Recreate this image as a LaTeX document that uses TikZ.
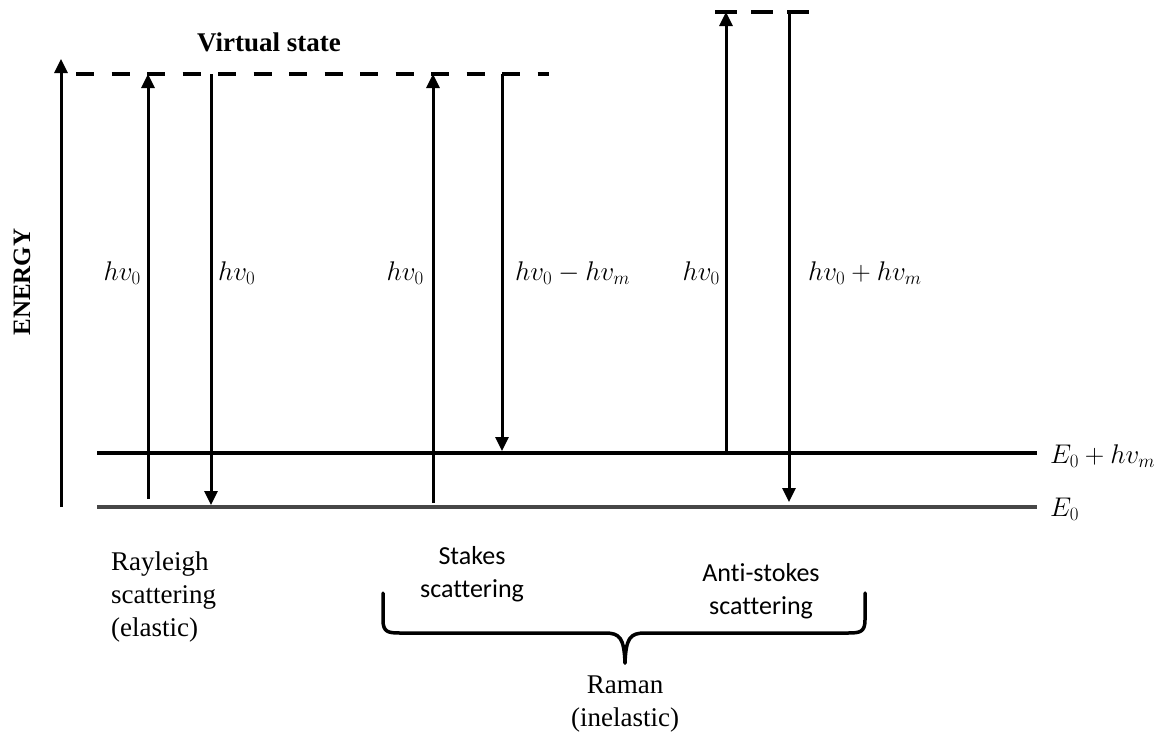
\RequirePackage{fix-cm}
\documentclass[tikz,border=0pt]{standalone}
\usepackage{fontspec}
\setmainfont{Liberation Serif}
\newfontfamily\calib[Ligatures=NoCommon]{Carlito}
\usetikzlibrary{arrows.meta}
\tikzset{
  arr/.style={line width=3pt, -{Triangle[width=13pt,length=14pt]}},
  lvl/.style={line width=3.5pt},
  gnd/.style={line width=4.5pt, draw=black!72},
  vdash/.style={line width=4.5pt, dash pattern=on 18pt off 17.5pt},
  mlab/.style={font=\fontsize{27}{32}\selectfont, inner sep=0pt},
  tlab/.style={font=\fontsize{27}{33}\selectfont, align=center, inner sep=0pt},
  slab/.style={font=\calib\fontsize{26}{33}\selectfont, align=center, inner sep=0pt},
  brace/.style={line width=3.5pt, line cap=round, line join=round}
}
\begin{document}
\begin{tikzpicture}[x=1pt,y=-1pt]
\useasboundingbox (0,0) rectangle (1165,734);
% levels
\coordinate (l1a) at (97,453); \coordinate (l1b) at (1037,453);
\coordinate (l0a) at (97,507); \coordinate (l0b) at (1037,507);
\draw[lvl] (l1a) -- (l1b);
\draw[gnd] (l0a) -- (l0b);
% virtual state dashed lines
\coordinate (v1a) at (76,74); \coordinate (v1b) at (549,74);
\draw[vdash] (v1a) -- (v1b);
\coordinate (v2a) at (715,12); \coordinate (v2b) at (809,12);
\draw[line width=4.5pt, dash pattern=on 21.5pt off 14.5pt] (v2a) -- (v2b);
% energy axis
\coordinate (ea) at (61,507); \coordinate (eb) at (61,59);
\draw[arr] (ea) -- (eb);
\node[tlab, font=\bfseries\fontsize{25}{30}\selectfont, rotate=90] (energy) at (22,282) {ENERGY};
\node[tlab, font=\bfseries\fontsize{27}{32}\selectfont, anchor=base] (vs) at (269,51) {Virtual state};
% Rayleigh
\coordinate (r1a) at (148,499); \coordinate (r1b) at (148,74);
\coordinate (r2a) at (211,74); \coordinate (r2b) at (211,505);
\draw[arr] (r1a) -- (r1b);
\draw[arr] (r2a) -- (r2b);
% Stokes
\coordinate (s1a) at (433,503); \coordinate (s1b) at (433,74);
\coordinate (s2a) at (502,74); \coordinate (s2b) at (502,451);
\draw[arr] (s1a) -- (s1b);
\draw[arr] (s2a) -- (s2b);
% Anti-Stokes
\coordinate (a1a) at (726,453); \coordinate (a1b) at (726,12);
\coordinate (a2a) at (789,10); \coordinate (a2b) at (789,502);
\draw[arr] (a1a) -- (a1b);
\draw[arr] (a2a) -- (a2b);
% photon labels
\node[mlab, anchor=base east] (h1) at (141,280) {$hv_0$};
\node[mlab, anchor=base west] (h2) at (218,280) {$hv_0$};
\node[mlab, anchor=base east] (h3) at (424,280) {$hv_0$};
\node[mlab, anchor=base west] (h4) at (515,280) {$hv_0 - hv_m$};
\node[mlab, anchor=base east] (h5) at (720,280) {$hv_0$};
\node[mlab, anchor=base west] (h6) at (808,280) {$hv_0 + hv_m$};
% level labels
\node[mlab, anchor=base west] (e1) at (1050,463) {$E_0 + hv_m$};
\node[mlab, anchor=base west] (e0) at (1050,516) {$E_0$};
% bottom labels
\node[tlab, align=left, anchor=west] (ray) at (111,597) {Rayleigh\\scattering\\(elastic)};
\node[slab] (sto) at (472,574) {Stakes\\scattering};
\node[slab] (ast) at (761,591) {Anti-stokes\\scattering};
\node[tlab] (ram) at (625,704) {Raman\\(inelastic)};
% brace
\coordinate (bl) at (383,593); \coordinate (br) at (865,593); \coordinate (bt) at (625,663);
\draw[brace] (bl) -- (383,620) .. controls (383,632) and (388,633) .. (400,633)
  -- (605,633) .. controls (620,633) and (624,638) .. (bt);
\draw[brace] (br) -- (865,620) .. controls (865,632) and (860,633) .. (848,633)
  -- (645,633) .. controls (630,633) and (626,638) .. (bt);
\end{tikzpicture}
\end{document}
